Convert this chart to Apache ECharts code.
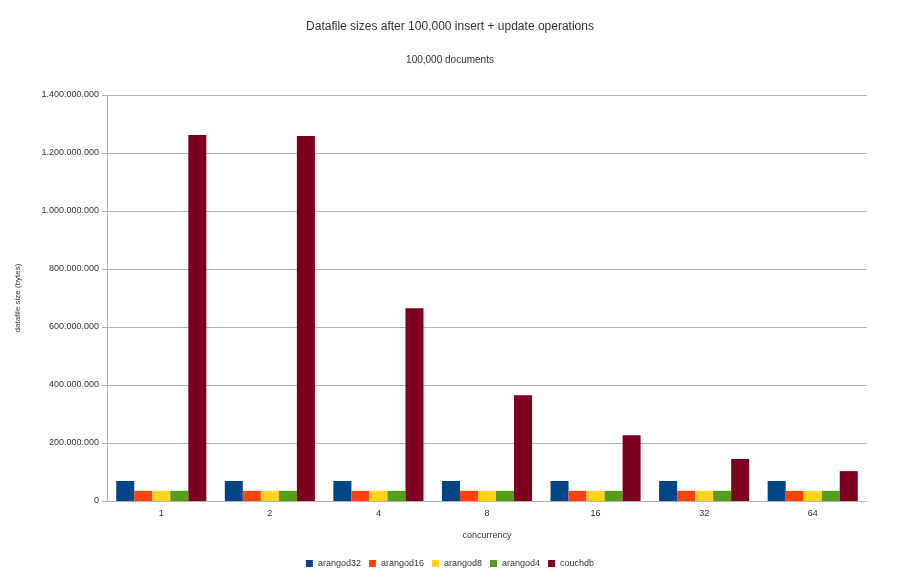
<!DOCTYPE html>
<html>
<head>
<meta charset="utf-8">
<script src="https://cdn.jsdelivr.net/npm/echarts@6/dist/echarts.min.js"></script>
<style>html,body{margin:0;padding:0;background:#fff}#chart{width:900px;height:579px}</style>
</head>
<body>
<div id="chart"></div>
<script>
const categories = ['1', '2', '4', '8', '16', '32', '64'];
const arangod32 = [69000000, 69000000, 69000000, 69000000, 69000000, 69000000, 69000000];
const arangod16 = [35000000, 35000000, 35000000, 35000000, 35000000, 35000000, 35000000];
const arangod8 = [35000000, 35000000, 35000000, 35000000, 35000000, 35000000, 35000000];
const arangod4 = [35000000, 35000000, 35000000, 35000000, 35000000, 35000000, 35000000];
const couchdb = [1262000000, 1259000000, 665000000, 365000000, 227000000, 145000000, 103000000];

const chart = echarts.init(document.getElementById('chart'));
const font = 'Liberation Sans, DejaVu Sans, sans-serif';
const mk = (name, data, color) => ({
    name, type: 'bar', data, barGap: '0%', barCategoryGap: '17%',
    itemStyle: { color }
});
chart.setOption({
    animation: false,
    textStyle: { fontFamily: font },
    title: [
        { text: 'Datafile sizes after 100,000 insert + update operations', left: 'center', top: 16,
          textStyle: { fontSize: 12, fontWeight: 'normal', color: '#333' } },
        { text: '100,000 documents', left: 'center', top: 50,
          textStyle: { fontSize: 10, fontWeight: 'normal', color: '#333' } }
    ],
    legend: {
        bottom: 6, left: 'center', itemWidth: 7, itemHeight: 7, itemGap: 8, icon: 'rect',
        textStyle: { fontSize: 9, color: '#333' }
    },
    grid: { left: 107, right: 33, top: 95, bottom: 78 },
    xAxis: {
        type: 'category', data: categories, name: 'concurrency', nameLocation: 'middle', nameGap: 30,
        nameTextStyle: { fontSize: 9, color: '#333' },
        axisLine: { lineStyle: { color: '#b3b3b3' } },
        axisTick: { lineStyle: { color: '#b3b3b3' } },
        axisLabel: { fontSize: 9, color: '#333' }
    },
    yAxis: {
        type: 'value', min: 0, max: 1400000000, interval: 200000000,
        name: 'datafile size (bytes)', nameLocation: 'middle', nameGap: 85, nameRotate: 90,
        nameTextStyle: { fontSize: 8, color: '#333' },
        axisLine: { show: true, lineStyle: { color: '#b3b3b3' } },
        axisTick: { show: true, lineStyle: { color: '#b3b3b3' } },
        splitLine: { lineStyle: { color: '#b3b3b3' } },
        axisLabel: { fontSize: 9, color: '#333',
            formatter: v => String(v).replace(/\B(?=(\d{3})+(?!\d))/g, '.') }
    },
    series: [
        mk('arangod32', arangod32, '#004586'),
        mk('arangod16', arangod16, '#ff420e'),
        mk('arangod8', arangod8, '#ffd320'),
        mk('arangod4', arangod4, '#579d1c'),
        mk('couchdb', couchdb, '#7e0021')
    ]
});
</script>
</body>
</html>
